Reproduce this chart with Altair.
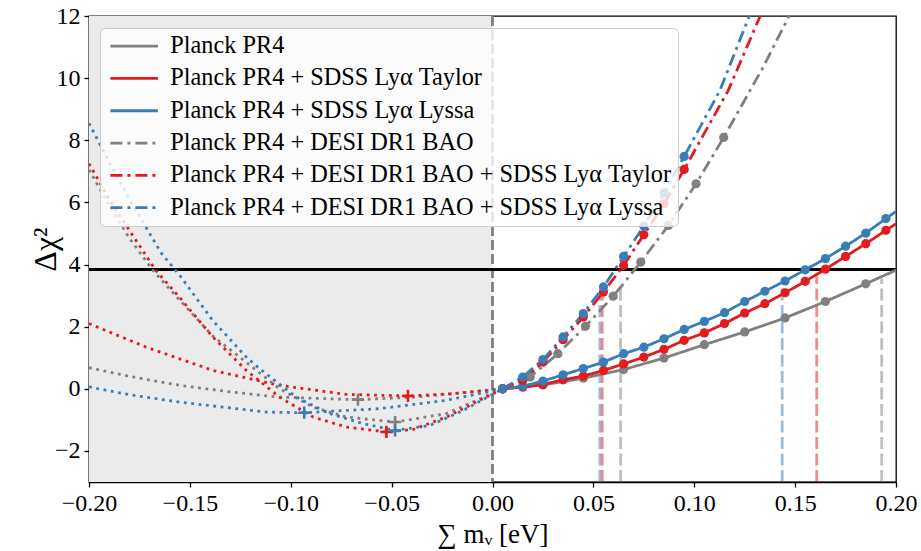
import altair as alt
import pandas as pd

# ---- series labels, colours and line styles ----
LABELS = [
    "Planck PR4",
    "Planck PR4 + SDSS Lyα Taylor",
    "Planck PR4 + SDSS Lyα Lyssa",
    "Planck PR4 + DESI DR1 BAO",
    "Planck PR4 + DESI DR1 BAO + SDSS Lyα Taylor",
    "Planck PR4 + DESI DR1 BAO + SDSS Lyα Lyssa",
]
COLORS = ["#808080", "#e41a1c", "#377eb8", "#808080", "#e41a1c", "#377eb8"]
DASHES = [[1, 0], [1, 0], [1, 0], [12, 5, 3, 5], [12, 5, 3, 5], [12, 5, 3, 5]]

# ---- sampled profile points (sum m_nu [eV], delta chi^2) ----
pr4_x = [0.005, 0.025, 0.045, 0.065, 0.085, 0.105, 0.125, 0.145, 0.165, 0.185]
pr4_y = [0.0, 0.12, 0.34, 0.62, 0.99, 1.42, 1.83, 2.28, 2.81, 3.38]

lya_x = [0.005, 0.015, 0.025, 0.035, 0.045, 0.055, 0.065, 0.075, 0.085, 0.095,
         0.105, 0.115, 0.125, 0.135, 0.145, 0.155, 0.165, 0.175, 0.185, 0.195]
taylor_y = [0.0, 0.05, 0.14, 0.29, 0.41, 0.59, 0.80, 1.02, 1.27, 1.56,
            1.80, 2.10, 2.44, 2.74, 3.09, 3.46, 3.85, 4.26, 4.67, 5.10]
lyssa_y = [0.0, 0.08, 0.25, 0.45, 0.65, 0.86, 1.13, 1.34, 1.61, 1.91,
           2.17, 2.45, 2.81, 3.14, 3.47, 3.83, 4.19, 4.59, 5.01, 5.48]

desi_x = [0.005, 0.0187, 0.0324, 0.0461, 0.0598, 0.0735, 0.0872, 0.1009, 0.1146]
desi_y = [0.0, 0.38, 1.13, 2.01, 2.98, 4.08, 5.26, 6.60, 8.09]

desi_lya_x = [0.005, 0.015, 0.025, 0.035, 0.045, 0.055, 0.065, 0.075, 0.085, 0.095]
desi_taylor_y = [0.0, 0.27, 0.86, 1.58, 2.31, 3.12, 3.97, 4.96, 5.96, 7.06]
desi_lyssa_y = [0.0, 0.38, 0.94, 1.67, 2.42, 3.28, 4.26, 5.24, 6.30, 7.48]

# ---- continuation of each fitted curve past the last sampled point ----
pr4_tail_x, pr4_tail_y = [0.2], [3.82]
taylor_tail_x, taylor_tail_y = [0.2], [5.31]
lyssa_tail_x, lyssa_tail_y = [0.2], [5.71]
desi_tail_x, desi_tail_y = [0.1342, 0.147], [10.36, 12.0]
desi_taylor_tail_x, desi_taylor_tail_y = [0.1168, 0.1327], [9.6, 12.0]
desi_lyssa_tail_x, desi_lyssa_tail_y = [0.1127, 0.1273], [9.6, 12.0]

# ---- extrapolated fits into the unphysical region (dotted) ----
pr4_ext_x = [-0.2, -0.18, -0.155, -0.13, -0.1055, -0.0667, -0.0394, -0.015, 0.005]
pr4_ext_y = [0.68, 0.40, 0.11, -0.10, -0.27, -0.35, -0.27, -0.13, 0.0]
taylor_ext_x = [-0.2, -0.1716, -0.1385, -0.1055, -0.0725, -0.0419, -0.02, 0.005]
taylor_ext_y = [2.10, 1.34, 0.59, 0.11, -0.18, -0.23, -0.16, 0.0]
lyssa_ext_x = [-0.2, -0.18, -0.155, -0.112, -0.0933, -0.0561, -0.0229, 0.005]
lyssa_ext_y = [0.06, -0.19, -0.43, -0.75, -0.77, -0.64, -0.37, 0.0]
desi_ext_x = [-0.2, -0.19, -0.18, -0.1683, -0.155, -0.1387, -0.122, -0.1055,
              -0.0889, -0.0725, -0.0483, -0.0229, 0.005]
desi_ext_y = [7.05, 5.90, 4.85, 3.81, 2.85, 1.70, 0.85, 0.0,
              -0.59, -0.91, -1.07, -0.80, 0.0]
desi_taylor_ext_x = [-0.2, -0.19, -0.18, -0.1735, -0.1669, -0.1552, -0.1387, -0.122,
                     -0.1055, -0.0889, -0.0725, -0.0526, -0.0394, -0.0229, 0.005]
desi_taylor_ext_y = [7.25, 6.10, 5.10, 4.46, 3.81, 2.95, 1.67, 0.59,
                     -0.27, -0.91, -1.23, -1.39, -1.31, -0.91, 0.0]
desi_lyssa_ext_x = [-0.2, -0.19, -0.18, -0.164, -0.155, -0.1387, -0.122, -0.1155,
                    -0.0972, -0.0807, -0.0642, -0.0483, -0.0311, -0.0146, 0.005]
desi_lyssa_ext_y = [8.55, 7.30, 6.10, 4.35, 3.65, 2.20, 1.02, 0.65,
                    -0.27, -0.80, -1.12, -1.34, -1.18, -0.70, 0.0]

# ---- best-fit (minimum) of each extrapolated fit ----
min_x = [-0.0667, -0.0419, -0.0933, -0.0483, -0.0526, -0.0483]
min_y = [-0.35, -0.23, -0.77, -1.07, -1.39, -1.34]

# ---- 95% upper limits, drawn up to the profile ----
lim_x = [0.1929, 0.1607, 0.1436, 0.0635, 0.0544, 0.0532]
lim_top = [3.55, 3.62, 3.45, 3.25, 3.05, 3.10]

CHI2_95 = 3.84
X_MIN, X_MAX = -0.2, 0.2
Y_MIN, Y_MAX = -3, 12


def long_frame(xs_list, ys_list):
    rows = []
    for lab, xs, ys in zip(LABELS, xs_list, ys_list):
        for i, (x, y) in enumerate(zip(xs, ys)):
            rows.append({"label": lab, "x": x, "y": y, "i": i})
    return pd.DataFrame(rows)


pts = long_frame(
    [pr4_x, lya_x, lya_x, desi_x, desi_lya_x, desi_lya_x],
    [pr4_y, taylor_y, lyssa_y, desi_y, desi_taylor_y, desi_lyssa_y],
)
curves = long_frame(
    [pr4_x + pr4_tail_x, lya_x + taylor_tail_x, lya_x + lyssa_tail_x,
     desi_x + desi_tail_x, desi_lya_x + desi_taylor_tail_x, desi_lya_x + desi_lyssa_tail_x],
    [pr4_y + pr4_tail_y, taylor_y + taylor_tail_y, lyssa_y + lyssa_tail_y,
     desi_y + desi_tail_y, desi_taylor_y + desi_taylor_tail_y, desi_lyssa_y + desi_lyssa_tail_y],
)
ext = long_frame(
    [pr4_ext_x, taylor_ext_x, lyssa_ext_x, desi_ext_x, desi_taylor_ext_x, desi_lyssa_ext_x],
    [pr4_ext_y, taylor_ext_y, lyssa_ext_y, desi_ext_y, desi_taylor_ext_y, desi_lyssa_ext_y],
)
mins = pd.DataFrame({"label": LABELS, "x": min_x, "y": min_y})
lims = pd.DataFrame({"label": LABELS, "x": lim_x, "y": [Y_MIN] * 6, "y2": lim_top})
region = pd.DataFrame({"x": [X_MIN], "x2": [0.0], "y": [Y_MIN], "y2": [Y_MAX]})
zero = pd.DataFrame({"x": [0.0]})
thresh = pd.DataFrame({"y": [CHI2_95]})

FONT = "Liberation Serif"
LW = 2.8

xs = alt.Scale(domain=[X_MIN, X_MAX], nice=False, zero=False)
ys = alt.Scale(domain=[Y_MIN, Y_MAX], nice=False, zero=False)
cs = alt.Scale(domain=LABELS, range=COLORS)
ds = alt.Scale(domain=LABELS, range=DASHES)

X = alt.X(
    "x:Q", scale=xs,
    axis=alt.Axis(
        title="∑ mᵥ [eV]", values=[-0.2, -0.15, -0.1, -0.05, 0.0, 0.05, 0.1, 0.15, 0.2],
        format=".2f", labelFlush=False, titleFontSize=27, titleY=52,
        titleBaseline="middle",
    ),
)
Y = alt.Y(
    "y:Q", scale=ys,
    axis=alt.Axis(
        title="Δχ²", values=[-2, 0, 2, 4, 6, 8, 10, 12], format="d",
        titleFontSize=32, titleX=-44, titleY=233, titleAngle=-90,
        titleAlign="center", titleBaseline="middle",
    ),
)

# wide, flat legend glyph: a horizontal stroke 2.5x the nominal symbol width
legend = alt.Legend(
    title=None, orient="none", legendX=11, legendY=12,
    symbolType="M-2.5,0H2.5", symbolSize=361, symbolStrokeWidth=LW,
    symbolOffset=16, labelOffset=24,
    labelFont=FONT, labelFontSize=24.3, labelColor="black", labelLimit=0,
    rowPadding=7.3, padding=6,
    fillColor="rgba(255,255,255,0.8)", strokeColor="#cccccc", cornerRadius=5,
)

shade = alt.Chart(region).mark_rect(color="#ebebeb").encode(
    x=alt.X("x:Q", scale=xs), x2="x2", y=alt.Y("y:Q", scale=ys), y2="y2"
)
zero_line = alt.Chart(zero).mark_rule(
    color="#808080", strokeDash=[10, 4], strokeWidth=LW
).encode(x=alt.X("x:Q", scale=xs))
thresh_line = alt.Chart(thresh).mark_rule(color="black", strokeWidth=LW).encode(
    y=alt.Y("y:Q", scale=ys)
)
limit_lines = alt.Chart(lims).mark_rule(
    strokeDash=[12, 4.5], strokeWidth=LW, opacity=0.5
).encode(
    x=alt.X("x:Q", scale=xs), y=alt.Y("y:Q", scale=ys), y2="y2",
    color=alt.Color("label:N", scale=cs, legend=None),
)
ext_lines = alt.Chart(ext).mark_line(
    strokeDash=[2.8, 4.6], strokeWidth=LW, clip=True
).encode(
    x=X, y=Y, order="i:Q",
    color=alt.Color("label:N", scale=cs, legend=None),
)
main_lines = alt.Chart(curves).mark_line(strokeWidth=LW, clip=True).encode(
    x=X, y=Y, order="i:Q",
    color=alt.Color("label:N", scale=cs, legend=legend),
    strokeDash=alt.StrokeDash("label:N", scale=ds, legend=legend),
)
points = alt.Chart(pts).mark_circle(size=85, opacity=1, clip=True).encode(
    x=X, y=Y, color=alt.Color("label:N", scale=cs, legend=None)
)
minima = alt.Chart(mins).mark_point(
    shape="M-1,0H1M0,-1V1", filled=False, size=150, strokeWidth=2.6, opacity=1
).encode(x=X, y=Y, color=alt.Color("label:N", scale=cs, legend=None))

chart = alt.layer(
    shade, zero_line, thresh_line, limit_lines, ext_lines, main_lines, points, minima
).resolve_legend(
    color="independent", strokeDash="independent"
).properties(
    width=807, height=466,
    padding={"left": 89, "top": 16, "right": 25, "bottom": 69},
    autosize=alt.AutoSizeParams(type="none"),
).configure_view(
    stroke="black", strokeWidth=1.3
).configure_axis(
    labelFont=FONT, labelFontSize=24, labelColor="black",
    titleFont=FONT, titleColor="black", titleFontWeight="normal",
    domainColor="black", domainWidth=1.3, tickColor="black", tickWidth=1.3,
    tickSize=5, labelPadding=4, grid=False, labelOverlap=False,
)

chart.save("out.html", embed_options={"renderer": "svg", "actions": False})
